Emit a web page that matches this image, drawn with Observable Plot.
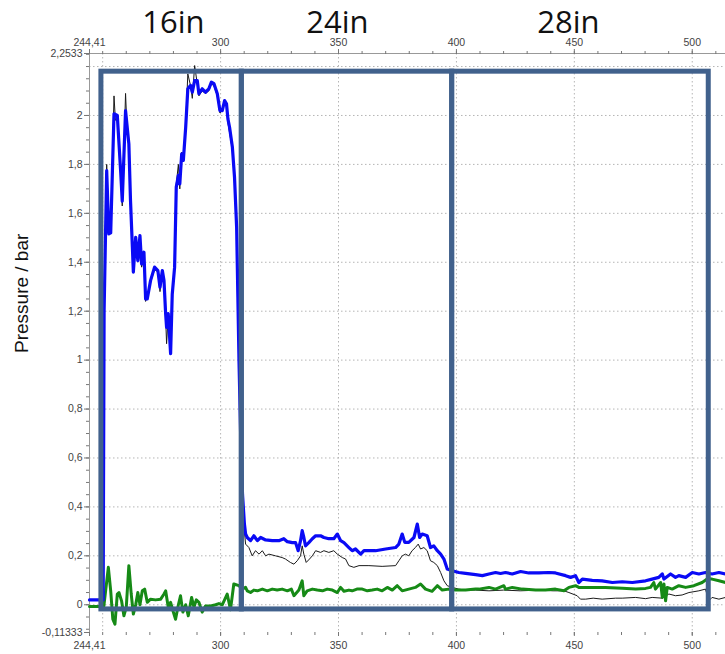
<!DOCTYPE html>
<html>
<head>
<meta charset="utf-8">
<script src="https://cdn.jsdelivr.net/npm/d3@7"></script>
<script src="https://cdn.jsdelivr.net/npm/@observablehq/plot@0.6"></script>
<style>
  html, body { margin: 0; padding: 0; background: #fff; }
  #chart svg { display: block; }
</style>
</head>
<body>
<div id="chart"></div>
<script>
// ---- axis ticks ----
const xMajorTicks = [244.41, 300, 350, 400, 450, 500];
const xMinorTicks = [250, 260, 270, 280, 290, 300, 310, 320, 330, 340, 350, 360, 370, 380, 390, 400, 410, 420, 430, 440, 450, 460, 470, 480, 490, 500, 510];
const xGridLines = [250, 300, 350, 400, 450, 500];
const yMajorTicks = [-0.11333, 0, 0.2, 0.4, 0.6, 0.8, 1, 1.2, 1.4, 1.6, 1.8, 2, 2.2533];
const yMinorTicks = d3.range(-2, 46).map(i => +(i * 0.05).toFixed(2));
const yGridLines = [0, 0.2, 0.4, 0.6, 0.8, 1, 1.2, 1.4, 1.6, 1.8, 2, 2.2];
const xDomain = [244.41, 514.1];
const yDomain = [-0.11333, 2.2533];

// ---- section annotation (pipe diameter) ----
const sectionLabels = ["16in", "24in", "28in"];
const sectionStart = [249.46, 309.0, 398.2];
const sectionEnd = [309.0, 398.2, 507.0];
const sectionLabelX = [280.0, 349.5, 447.5];
const frameTop = 2.179;
const frameBottom = -0.019;

// ---- series: [time, pressure / bar] ----
const blueSeries = [
  [244.41,0.02],[250.2,0.02],[250.6,1.2],[251.7,1.775],[252.6,1.516],[253.4,1.52],[254.8,2.007],[256.2,2.0],
  [257.6,1.775],[258.3,1.65],[259.7,2.02],[261.1,1.884],[261.8,1.652],[262.6,1.461],[263.0,1.36],[264.0,1.502],
  [264.9,1.407],[265.8,1.509],[266.5,1.393],[267.5,1.441],[268.2,1.25],[268.9,1.25],[270.3,1.325],[272.0,1.38],
  [273.4,1.366],[274.3,1.298],[275.3,1.366],[276.0,1.325],[276.7,1.189],[277.1,1.134],[277.8,1.19],[278.8,1.026],
  [279.5,1.27],[280.5,1.38],[281.2,1.707],[282.1,1.755],[282.7,1.72],[283.5,1.843],[284.2,1.816],[285.2,1.952],
  [286.1,2.109],[287.3,2.123],[288.0,2.095],[289.0,2.143],[290.1,2.143],[290.8,2.089],[292.2,2.109],[293.6,2.095],
  [295.0,2.109],[296.1,2.136],[297.2,2.13],[298.6,2.089],[299.7,2.02],[300.7,2.02],[301.7,2.061],[302.5,2.048],
  [303.1,1.986],[303.8,1.952],[305.0,1.87],[305.9,1.748],[306.8,1.543],[307.3,1.27],[307.8,1.0],[308.5,0.7],
  [309.3,0.45],[310.1,0.33],[310.6,0.29],[311.3,0.275],[312.7,0.262],[314.1,0.282],[315.6,0.262],[317.0,0.275],
  [319.1,0.265],[321.9,0.262],[324.7,0.262],[326.8,0.27],[328.3,0.258],[330.4,0.254],[331.8,0.254],[332.9,0.221],
  [333.9,0.262],[334.6,0.303],[335.3,0.275],[336.0,0.241],[337.4,0.254],[338.9,0.27],[340.3,0.282],[342.4,0.282],
  [343.8,0.275],[345.9,0.27],[348.0,0.27],[349.5,0.289],[350.9,0.262],[352.3,0.254],[354.4,0.234],[355.8,0.221],
  [357.2,0.228],[359.4,0.207],[360.8,0.221],[362.9,0.221],[365.7,0.221],[370.0,0.228],[374.2,0.234],[375.6,0.248],
  [377.0,0.289],[378.1,0.255],[379.8,0.255],[382.0,0.275],[383.4,0.33],[384.4,0.275],[385.5,0.289],[387.6,0.282],
  [389.0,0.234],[390.4,0.241],[391.9,0.221],[393.3,0.207],[394.7,0.187],[396.1,0.146],[398.2,0.139],[401.0,0.132],
  [403.9,0.128],[408.1,0.123],[411.0,0.119],[413.8,0.126],[416.6,0.132],[418.7,0.128],[420.8,0.132],[423.7,0.126],
  [427.2,0.136],[430.7,0.13],[435.0,0.13],[439.2,0.132],[442.0,0.13],[446.3,0.119],[448.4,0.112],[450.5,0.119],
  [451.9,0.091],[453.4,0.105],[457.6,0.1],[461.8,0.098],[466.1,0.091],[470.3,0.094],[474.6,0.091],[480.2,0.098],
  [483.0,0.105],[485.8,0.112],[487.3,0.126],[488.0,0.105],[490.8,0.126],[492.9,0.112],[494.3,0.119],[497.2,0.112],
  [500.0,0.132],[502.8,0.126],[505.6,0.132],[508.4,0.126],[511.3,0.132],[514.1,0.126]
];

const blackSeries = [
  [244.41,0.02],[250.2,0.02],[250.6,1.2],[251.7,1.80],[252.6,1.52],[253.4,1.53],[254.8,2.08],[255.4,1.98],
  [256.2,1.99],[257.6,1.76],[258.3,1.63],[259.7,2.09],[260.3,1.95],[261.1,1.87],[261.8,1.64],[262.6,1.44],
  [263.0,1.38],[264.0,1.49],[264.9,1.42],[265.8,1.50],[266.5,1.38],[267.5,1.43],[268.2,1.24],[268.9,1.26],
  [270.3,1.32],[272.0,1.37],[273.4,1.36],[274.3,1.28],[275.3,1.36],[276.0,1.31],[276.7,1.17],[277.1,1.067],
  [277.8,1.18],[278.8,1.05],[279.5,1.26],[280.5,1.40],[281.2,1.72],[282.1,1.80],[282.7,1.70],[283.5,1.85],
  [284.2,1.83],[285.2,1.96],[286.1,2.17],[287.3,2.12],[288.0,2.07],[289.0,2.204],[290.1,2.13],[290.8,2.08],
  [292.2,2.10],[293.6,2.09],[295.0,2.10],[296.1,2.13],[297.2,2.12],[298.6,2.08],[299.7,2.01],[300.7,2.02],
  [301.7,2.05],[302.5,2.04],[303.1,1.97],[303.8,1.93],[305.0,1.86],[305.9,1.74],[306.8,1.53],[307.3,1.26],
  [307.8,1.0],[308.5,0.69],[309.3,0.44],[310.1,0.30],[310.6,0.248],[312.0,0.234],[313.4,0.2],[314.8,0.221],
  [316.3,0.207],[317.7,0.221],[319.1,0.2],[320.5,0.207],[323.3,0.2],[326.1,0.193],[327.5,0.187],[329.6,0.173],
  [331.1,0.166],[332.5,0.18],[333.9,0.2],[334.6,0.241],[335.3,0.207],[336.3,0.173],[337.7,0.187],[338.9,0.2],
  [340.3,0.221],[342.4,0.214],[343.8,0.221],[345.9,0.214],[348.0,0.221],[349.5,0.207],[351.6,0.193],[353.0,0.187],
  [354.4,0.16],[356.5,0.153],[358.7,0.16],[362.9,0.16],[368.5,0.157],[374.2,0.16],[375.6,0.18],[377.0,0.2],
  [378.4,0.207],[379.8,0.2],[381.2,0.221],[382.6,0.234],[383.8,0.248],[384.8,0.228],[386.2,0.234],[387.6,0.221],
  [389.0,0.18],[390.4,0.173],[391.9,0.16],[393.3,0.132],[394.7,0.098],[396.1,0.078],[398.2,0.071],[401.0,0.064],
  [403.9,0.06],[408.1,0.06],[413.8,0.057],[420.0,0.06],[427.0,0.057],[435.0,0.06],[441.0,0.057],[445.6,0.057],
  [447.7,0.05],[451.2,0.037],[452.6,0.023],[454.8,0.023],[458.0,0.027],[461.8,0.023],[467.5,0.027],[470.3,0.027],
  [476.0,0.03],[480.2,0.025],[483.0,0.03],[487.3,0.027],[490.1,0.044],[492.9,0.037],[495.7,0.04],[498.6,0.05],
  [502.8,0.057],[505.6,0.064],[507.0,0.016],[508.4,0.03],[511.3,0.023],[514.1,0.03]
];

const greenSeries = [
  [244.41,-0.007],[248.3,-0.007],[250.5,-0.005],[252.4,0.153],[253.4,0.057],[254.3,-0.059],[255.2,-0.079],[256.2,0.044],
  [256.9,0.05],[258.0,0.016],[259.0,-0.045],[260.0,-0.01],[261.1,0.16],[262.1,0.044],[263.0,-0.038],[264.0,0.0],
  [264.9,0.05],[265.8,0.0],[266.8,0.057],[267.8,0.064],[268.9,0.01],[270.3,0.023],[272.4,0.02],[274.6,0.023],
  [276.0,0.044],[276.7,0.057],[277.8,-0.01],[278.8,0.01],[279.8,-0.025],[280.9,-0.059],[282.1,0.0],[283.0,0.037],
  [284.0,-0.03],[285.2,0.0],[286.3,-0.045],[287.7,0.03],[288.7,-0.01],[289.7,0.02],[290.8,0.01],[292.2,-0.03],
  [293.6,-0.005],[295.8,-0.005],[297.9,0.0],[299.3,0.005],[300.7,0.0],[302.8,0.044],[304.2,-0.02],[305.6,0.085],
  [307.8,0.078],[309.2,0.064],[310.6,0.071],[311.3,0.057],[312.7,0.05],[314.1,0.06],[315.6,0.057],[317.7,0.064],
  [319.8,0.057],[321.9,0.064],[324.0,0.06],[326.1,0.064],[328.3,0.057],[330.0,0.064],[331.1,0.037],[333.2,0.06],
  [334.6,0.098],[335.3,0.037],[336.7,0.057],[338.9,0.064],[341.0,0.06],[343.2,0.057],[345.2,0.064],[347.4,0.06],
  [349.5,0.05],[350.9,0.071],[352.3,0.055],[354.4,0.06],[355.8,0.057],[357.8,0.064],[360.1,0.064],[362.2,0.057],
  [364.3,0.06],[366.4,0.064],[368.5,0.057],[370.7,0.071],[372.8,0.06],[374.9,0.078],[377.0,0.057],[379.8,0.064],
  [382.6,0.071],[384.8,0.085],[386.9,0.064],[389.7,0.055],[391.9,0.078],[394.0,0.06],[396.8,0.064],[399.6,0.06],
  [403.9,0.06],[408.1,0.064],[409.5,0.064],[413.8,0.071],[416.6,0.064],[420.1,0.078],[420.8,0.064],[423.7,0.071],
  [427.9,0.064],[433.6,0.06],[437.8,0.06],[442.0,0.064],[445.6,0.057],[447.7,0.071],[450.5,0.078],[451.9,0.071],
  [457.6,0.071],[463.2,0.071],[470.3,0.068],[476.0,0.064],[480.2,0.067],[482.3,0.071],[483.7,0.091],[484.4,0.064],
  [486.6,0.091],[487.3,0.03],[488.0,0.085],[488.7,0.016],[489.4,0.071],[491.5,0.064],[494.3,0.078],[497.2,0.071],
  [500.7,0.078],[504.2,0.091],[506.3,0.105],[508.4,0.105],[511.3,0.098],[514.1,0.091]
];

const fmt = d => String(d).replace(".", ",");
const gridStyle = {stroke: "#b5b5b5", strokeDasharray: "1.5,2.5", strokeWidth: 1};
const sections = sectionLabels.map((label, i) => ({label, x1: sectionStart[i], x2: sectionEnd[i], lx: sectionLabelX[i]}));
const X = d => d[0], Y = d => d[1];

const chart = Plot.plot({
  width: 725,
  height: 654,
  marginLeft: 89,
  marginRight: 0,
  marginTop: 53,
  marginBottom: 22,
  style: {fontFamily: "'Liberation Sans', Arial, sans-serif", background: "#fff"},
  x: {domain: xDomain},
  y: {domain: yDomain},
  marks: [
    Plot.ruleY(yGridLines, gridStyle),
    Plot.ruleX(xGridLines, gridStyle),
    Plot.ruleX([xDomain[0]], {stroke: "#999", strokeWidth: 1}),
    Plot.ruleY([yDomain[1]], {stroke: "#999", strokeWidth: 1}),
    Plot.axisY({ticks: yMinorTicks, tickSize: 3, tickFormat: () => "", stroke: "#777", label: null}),
    Plot.axisY({ticks: yMajorTicks, tickSize: 5, tickPadding: 2, tickFormat: fmt, stroke: "#777", fill: "#444", fontSize: 10.5, label: null}),
    Plot.axisX({anchor: "top", ticks: xMinorTicks, tickSize: 3, tickFormat: () => "", stroke: "#777", label: null}),
    Plot.axisX({anchor: "top", ticks: xMajorTicks, tickSize: 5, tickPadding: 3, tickFormat: fmt, stroke: "#777", fill: "#444", fontSize: 10.5, label: null}),
    Plot.axisX({anchor: "bottom", ticks: xMinorTicks, tickSize: 3, tickFormat: () => "", stroke: "#777", label: null}),
    Plot.axisX({anchor: "bottom", ticks: xMajorTicks, tickSize: 4, tickPadding: 5, tickFormat: fmt, stroke: "#777", fill: "#444", fontSize: 10.5, label: null}),
    Plot.line(blackSeries, {x: X, y: Y, stroke: "#1a1a1a", strokeWidth: 1}),
    Plot.line(greenSeries, {x: X, y: Y, stroke: "#168a16", strokeWidth: 3}),
    Plot.line(blueSeries, {x: X, y: Y, stroke: "#0a0af5", strokeWidth: 3.2}),
    Plot.rect(sections, {x1: "x1", x2: "x2", y1: () => frameBottom, y2: () => frameTop, fill: "none", stroke: "#41618c", strokeWidth: 5, strokeLinejoin: "miter"}),
    Plot.text(sections, {x: "lx", text: "label", frameAnchor: "top", lineAnchor: "middle", dy: -30, fontSize: 31, fontFamily: "'Open Sans', sans-serif", fill: "#111"}),
    Plot.text(["Pressure / bar"], {frameAnchor: "left", rotate: -90, dx: -68, dy: 10, fontSize: 19, fill: "#111"})
  ]
});
document.getElementById("chart").appendChild(chart);
</script>
</body>
</html>
